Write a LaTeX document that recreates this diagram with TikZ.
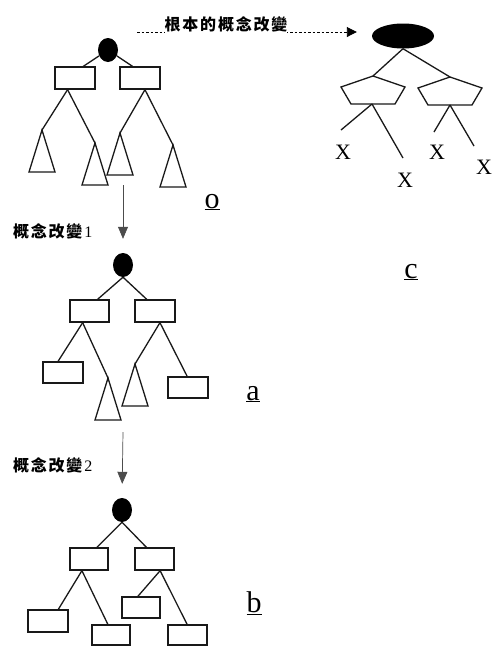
\documentclass[tikz,border=0pt]{standalone}
\usepackage{fontspec}
\setmainfont{Liberation Serif}
\newfontfamily\cjk[LetterSpace=11]{Noto Sans CJK TC}
\usetikzlibrary{arrows.meta,shapes.geometric,calc}
\newcommand\mytri[1]{\draw[ln,line join=miter] (#1) -- ++(-13,42) -- ++(26,0) -- cycle;}
\newcommand\mypent[1]{\draw[ln] (#1) -- ++(-32,11) -- ++(10,17) -- ++(44,0) -- ++(10,-17) -- cycle;}
\begin{document}
\begin{tikzpicture}[x=1pt,y=-1pt,
  ln/.style={line width=1.3pt,draw=black!90},
  box/.style={ln,rectangle,minimum width=40pt,minimum height=22pt,inner sep=0pt},
  dot/.style={ellipse,fill=black,minimum width=20pt,minimum height=24pt,inner sep=0pt},
  big/.style={ellipse,fill=black,minimum width=62pt,minimum height=25pt,inner sep=0pt},
  lab/.style={font=\fontsize{30}{32}\selectfont,inner sep=0pt,anchor=base},
  xlab/.style={font=\fontsize{22}{24}\selectfont,inner sep=0pt},
  cjklab/.style={font=\cjk\bfseries\fontsize{16}{18}\selectfont,inner sep=0pt},
  flow/.style={line width=0.7pt,draw=black!70,-{Triangle[length=12pt,width=10pt]}},
  jump/.style={line width=0.9pt,dash pattern=on 2.5pt off 2pt,-{Triangle[length=10pt,width=10pt]}},
]
\useasboundingbox (0,0) rectangle (491,646);

% ---------- tree o ----------
\node[dot] (o0) at (108,50) {};
\node[box] (oL) at (75,78) {};
\node[box] (oR) at (140,78) {};
\coordinate (oLb) at ($(oL.south west)!.32!(oL.south east)$);
\coordinate (oRb) at ($(oR.south west)!.62!(oR.south east)$);
\coordinate (ot1) at (42,130);
\coordinate (ot2) at (95,143);
\coordinate (ot3) at (120,133);
\coordinate (ot4) at (173,145);
\draw[ln] (o0) -- ($(oL.north west)!.7!(oL.north east)$);
\draw[ln] (o0) -- ($(oR.north west)!.32!(oR.north east)$);
\draw[ln] (oLb) -- (ot1);
\draw[ln] (oLb) -- (ot2);
\draw[ln] (oRb) -- (ot3);
\draw[ln] (oRb) -- (ot4);
\mytri{ot1}\mytri{ot2}\mytri{ot3}\mytri{ot4}
\node[lab] (lo) at (212,208) {\underline{o}};

% ---------- tree a ----------
\node[dot] (a0) at (123,265) {};
\node[box,minimum width=39pt] (aL) at (89.5,311) {};
\node[box] (aR) at (155,311) {};
\node[box,minimum height=21pt] (aLL) at (63,372.5) {};
\node[box,minimum height=21pt] (aRR) at (188,387.5) {};
\coordinate (aLb) at ($(aL.south west)!.33!(aL.south east)$);
\coordinate (aRb) at ($(aR.south west)!.62!(aR.south east)$);
\coordinate (at1) at (108,378);
\coordinate (at2) at (135,364);
\draw[ln] (a0.south) -- ($(aL.north west)!.7!(aL.north east)$);
\draw[ln] (a0.south) -- ($(aR.north west)!.3!(aR.north east)$);
\draw[ln] (aLb) -- ($(aLL.north west)!.38!(aLL.north east)$);
\draw[ln] (aLb) -- (at1);
\draw[ln] (aRb) -- (at2);
\draw[ln] (aRb) -- ($(aRR.north west)!.48!(aRR.north east)$);
\mytri{at1}\mytri{at2}
\node[lab] (la) at (253,400) {\underline{a}};

% ---------- tree b ----------
\node[dot] (b0) at (122,510) {};
\node[box,minimum width=38pt] (bL) at (89,559) {};
\node[box,minimum width=39pt] (bR) at (154.5,559) {};
\node[box] (bLL) at (48,621) {};
\node[box,minimum width=38pt,minimum height=20pt] (bLR) at (111,635) {};
\node[box,minimum width=38pt,minimum height=21pt] (bRL) at (141,607.5) {};
\node[box,minimum width=39pt,minimum height=20pt] (bRR) at (187.5,635) {};
\coordinate (bLb) at ($(bL.south west)!.32!(bL.south east)$);
\coordinate (bRb) at ($(bR.south west)!.64!(bR.south east)$);
\draw[ln] (b0.south) -- ($(bL.north west)!.7!(bL.north east)$);
\draw[ln] (b0.south) -- ($(bR.north west)!.3!(bR.north east)$);
\draw[ln] (bLb) -- ($(bLL.north west)!.75!(bLL.north east)$);
\draw[ln] (bLb) -- ($(bLR.north west)!.42!(bLR.north east)$);
\draw[ln] (bRb) -- ($(bRL.north west)!.42!(bRL.north east)$);
\draw[ln] (bRb) -- ($(bRR.north west)!.49!(bRR.north east)$);
\node[lab] (lb) at (254,612) {\underline{b}};

% ---------- tree c ----------
\node[big] (c0) at (403,36) {};
\coordinate (p1) at (373,76);
\coordinate (p2) at (450,77);
\draw[ln] (c0.south) -- (p1);
\draw[ln] (c0.south) -- (p2);
\mypent{p1}\mypent{p2}
\coordinate (p1b) at (372,104);
\coordinate (p2b) at (450,105);
\coordinate (x1e) at (341,130);
\coordinate (x2e) at (403,158);
\coordinate (x3e) at (434,132);
\coordinate (x4e) at (474,146);
\draw[ln] (p1b) -- (x1e);
\draw[ln] (p1b) -- (x2e);
\draw[ln] (p2b) -- (x3e);
\draw[ln] (p2b) -- (x4e);
\node[xlab] (X1) at (343,152) {X};
\node[xlab] (X2) at (405,180) {X};
\node[xlab] (X3) at (437,152) {X};
\node[xlab] (X4) at (484,167) {X};
\node[lab] (lc) at (411,278) {\underline{c}};

% ---------- transitions ----------
\coordinate (js) at (137,32);
\draw[jump,shorten >=15pt] (js) -- (js -| c0.west);
\node[cjklab,fill=white,inner ysep=1pt] (jt) at (226,24) {根本的概念改變};

\coordinate (f1) at (123,185);
\draw[flow,shorten >=14pt] (f1) -- (a0.north);
\node[cjklab,anchor=west] (k1) at (13,231) {概念改變\hspace{2pt}{\rmfamily\mdseries 1}};

\coordinate (f2) at (123,432);
\draw[flow,shorten >=14pt] (f2) -- (b0.north);
\node[cjklab,anchor=west] (k2) at (13,465) {概念改變\hspace{2pt}{\rmfamily\mdseries 2}};
\end{tikzpicture}
\end{document}
